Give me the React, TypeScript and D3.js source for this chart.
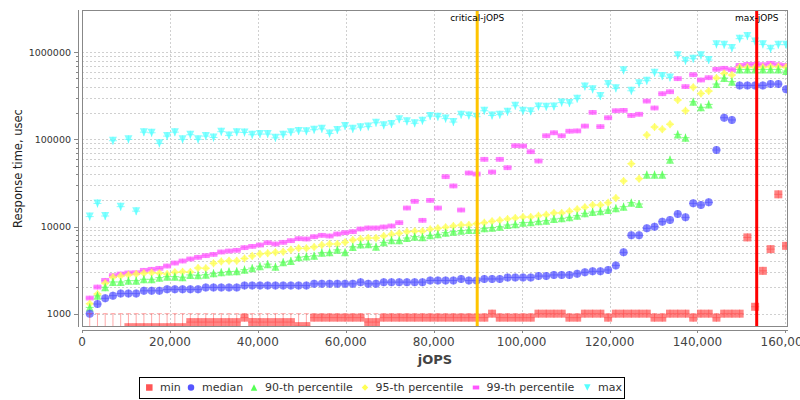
import React from 'react';
import * as d3 from 'd3';

const jops = [1760, 3520, 5280, 7040, 8800, 10560, 12320, 14080, 15840, 17600, 19360, 21120, 22880, 24640, 26400, 28160, 29920, 31680, 33440, 35200, 36960, 38720, 40480, 42240, 44000, 45760, 47520, 49280, 51040, 52800, 54560, 56320, 58080, 59840, 61600, 63360, 65120, 66880, 68640, 70400, 72160, 73920, 75680, 77440, 79200, 80960, 82720, 84480, 86240, 88000, 89760, 91520, 93280, 95040, 96800, 98560, 100320, 102080, 103840, 105600, 107360, 109120, 110880, 112640, 114400, 116160, 117920, 119680, 121440, 123200, 124960, 126720, 128480, 130240, 132000, 133760, 135520, 137280, 139040, 140800, 142560, 144320, 146080, 147840, 149600, 151360, 153120, 154880, 156640, 158400, 160160];

const minRT = [500, 500, 500, 500, 500, 700, 700, 700, 700, 700, 700, 700, 700, 800, 800, 800, 800, 800, 800, 800, 900, 800, 800, 800, 800, 800, 800, 720, 720, 900, 900, 900, 900, 900, 900, 900, 800, 800, 900, 900, 900, 900, 900, 900, 900, 900, 900, 900, 900, 900, 900, 900, 1000, 900, 900, 900, 900, 900, 1000, 1000, 1000, 1000, 900, 900, 1000, 1000, 1000, 900, 1000, 1000, 1000, 1000, 1000, 900, 900, 1000, 1000, 1000, 900, 1000, 1000, 900, 1000, 1000, 1000, 7500, 1200, 3100, 5500, 23400, 6000];

const medianRT = [1000, 1290, 1500, 1610, 1700, 1700, 1700, 1830, 1830, 1830, 1900, 1900, 1900, 1900, 1900, 2000, 2000, 2000, 2000, 2000, 2100, 2100, 2100, 2100, 2100, 2100, 2100, 2100, 2100, 2200, 2200, 2200, 2200, 2200, 2200, 2300, 2200, 2200, 2300, 2300, 2300, 2300, 2300, 2300, 2400, 2400, 2400, 2400, 2500, 2400, 2400, 2500, 2500, 2500, 2600, 2600, 2600, 2600, 2700, 2700, 2780, 2780, 2780, 2870, 2980, 3060, 3060, 3170, 3580, 5050, 7920, 7920, 9530, 9960, 11360, 11870, 13910, 12740, 18440, 17650, 18930, 75450, 177000, 167000, 416000, 416000, 416000, 416000, 431000, 431000, 375000];

const p90RT = [1180, 1600, 2010, 2310, 2310, 2390, 2390, 2480, 2480, 2590, 2660, 2660, 2620, 2780, 2760, 2800, 2900, 2980, 3040, 3060, 3200, 3330, 3500, 3700, 3460, 3900, 4020, 4450, 4520, 4610, 5010, 5050, 5400, 5050, 5820, 6200, 6270, 5870, 6580, 6970, 6940, 7380, 7650, 7550, 7920, 8130, 8500, 8730, 8960, 9120, 9120, 9530, 9700, 9960, 10400, 10590, 11070, 11160, 11460, 11670, 12190, 12410, 12740, 13310, 14160, 14660, 14930, 15460, 16160, 16890, 18760, 18120, 39330, 39330, 39330, 58400, 114000, 104500, 270000, 233000, 252000, 431000, 505000, 459000, 635000, 635000, 635000, 635000, 635000, 635000, 608000];

const p95RT = [1300, 1680, 2230, 2610, 2700, 2780, 2850, 2900, 2950, 2900, 2850, 2980, 3020, 3000, 3340, 3320, 3780, 3980, 4040, 4040, 4290, 4600, 4840, 4940, 5050, 5140, 5420, 5620, 5620, 5820, 6130, 6300, 6300, 6580, 7000, 7190, 7380, 7380, 7780, 8130, 8350, 8730, 8800, 8800, 9280, 9530, 9780, 10140, 10400, 10400, 10780, 11070, 11460, 11770, 12190, 12520, 12850, 12850, 13310, 13670, 14290, 14290, 14930, 15740, 16600, 17650, 17650, 18760, 21230, 33270, 52600, 35400, 112000, 138500, 131000, 149000, 283000, 213000, 395000, 337000, 358000, 505000, 571000, 547000, 670000, 670000, 670000, 670000, 682000, 682000, 670000];

const p99RT = [1510, 2020, 2410, 2730, 2850, 2930, 2950, 3140, 3225, 3310, 3520, 3810, 4020, 4240, 4430, 4630, 4790, 5100, 5230, 5330, 5720, 5920, 6130, 6520, 6300, 6580, 6880, 7250, 7190, 7640, 7920, 7780, 8200, 8500, 8730, 9360, 9620, 9620, 9870, 10140, 11070, 16300, 19450, 11770, 19950, 16300, 37300, 29200, 15460, 41100, 40000, 59000, 42200, 59000, 47300, 84600, 83900, 72200, 56400, 110000, 119000, 110000, 124000, 125000, 142000, 204000, 140000, 177000, 213000, 215000, 188000, 194000, 275000, 229000, 334000, 352000, 497000, 403000, 552000, 480000, 510000, 637000, 653000, 630000, 706000, 725000, 725000, 719000, 745000, 719000, 706000];

const maxRT = [13000, 18400, 13200, 96500, 16900, 100000, 15000, 121000, 119000, 90000, 109000, 121000, 100000, 113000, 100000, 109000, 105000, 122500, 111000, 121000, 120000, 113000, 115000, 115000, 104000, 113000, 121000, 125000, 124000, 129000, 132000, 117000, 128000, 142000, 132000, 138000, 140000, 155000, 145000, 150000, 170000, 161000, 153000, 164000, 185000, 182000, 173000, 158000, 192000, 188000, 182000, 213000, 188000, 192000, 207000, 243000, 213000, 210000, 239000, 237000, 239000, 264000, 261000, 293000, 405000, 375000, 314000, 431000, 385000, 619000, 361000, 439000, 471000, 582000, 532000, 514000, 920000, 799000, 842000, 920000, 813000, 1230000, 1220000, 1117000, 1430000, 1530000, 1330000, 1230000, 1096000, 1220000, 1220000];

const xTicks = [0, 20000, 40000, 60000, 80000, 100000, 120000, 140000, 160000];
const yMajorTicks = [1000, 10000, 100000, 1000000];
const criticalJOPS = 89900;
const maxJOPS = 153480;

const seriesNames = ['min', 'median', '90-th percentile', '95-th percentile', '99-th percentile', 'max'];
const seriesColors = ['#FF5555', '#5555FF', '#55FF55', '#FFFF55', '#FF55FF', '#55FFFF'];
const seriesShapes = ['square', 'circle', 'up', 'diamond', 'hrect', 'down'];
const seriesValues = [minRT, medianRT, p90RT, p95RT, p99RT, maxRT];

const FONT = 'DejaVu Sans, Verdana, sans-serif';
const L = 82, R = 788, T = 10, B = 327;

const x = d3.scaleLinear().domain([0, 160600]).range([L, R]);
const y = d3.scaleLog().domain([703, 3050000]).range([B, T]);

function shapePath(kind: string, cx: number, cy: number, s: number): string {
  const h = s / 2;
  switch (kind) {
    case 'square':
      return `M${cx - h},${cy - h}h${s}v${s}h${-s}Z`;
    case 'circle':
      return `M${cx - h},${cy}a${h},${h} 0 1,0 ${s},0a${h},${h} 0 1,0 ${-s},0Z`;
    case 'up':
      return `M${cx},${cy - h}L${cx + h},${cy + h}L${cx - h},${cy + h}Z`;
    case 'down':
      return `M${cx - h},${cy - h}L${cx + h},${cy - h}L${cx},${cy + h}Z`;
    case 'diamond':
      return `M${cx},${cy - h}L${cx + h},${cy}L${cx},${cy + h}L${cx - h},${cy}Z`;
    case 'hrect':
      return `M${cx - h},${cy - h * 0.6}h${s}v${s * 0.6}h${-s}Z`;
    default:
      return '';
  }
}

function crossPath(kind: string, cx: number, cy: number, s: number): string {
  const h = s / 2;
  const vh = kind === 'hrect' ? h * 0.6 : h;
  return `M${cx - h},${cy}H${cx + h}M${cx},${cy - vh}V${cy + vh}`;
}

export default function App() {
  const minorY: number[] = [];
  [1000, 10000, 100000].forEach((d) => {
    for (let j = 1; j <= 9; j++) minorY.push(d * j);
  });
  minorY.push(1000000);

  const order = [5, 4, 3, 2, 1, 0];
  const legendSym = [149.3, 191, 254, 365, 476, 587.3];
  const legendText = [160, 202, 265, 375.5, 486.5, 598];

  return (
    <svg width={800} height={400} style={{ position: 'absolute', left: 0, top: 0, display: 'block', background: '#fff' }} fontFamily={FONT}>
      <defs>
        <clipPath id="plotClip">
          <rect x={L} y={T} width={R - L} height={B - T} />
        </clipPath>
      </defs>
      <rect x={0} y={0} width={800} height={400} fill="#fff" />
      <rect x={L} y={T} width={R - L} height={B - T} fill="#fff" />
      {/* grid */}
      <g stroke="#d0d0d0" strokeWidth={1} strokeDasharray="2,2" shapeRendering="crispEdges">
        {minorY.map((v, i) => (
          <line key={'gy' + i} x1={L} x2={R} y1={Math.round(y(v)) + 0.5} y2={Math.round(y(v)) + 0.5} />
        ))}
        {xTicks.slice(1).map((v, i) => (
          <line key={'gx' + i} x1={Math.round(x(v)) + 0.5} x2={Math.round(x(v)) + 0.5} y1={T} y2={B} />
        ))}
      </g>
      {/* series */}
      <g clipPath="url(#plotClip)">
        {order.map((si) => {
          const vals = seriesValues[si];
          const col = seriesColors[si];
          const kind = seriesShapes[si];
          return (
            <g key={'s' + si}>
              {si === 0 &&
                vals.map((v, i) =>
                  v < 1000 ? (
                    <g key={'w' + i} stroke={col} strokeOpacity={0.5} strokeWidth={1}>
                      <line x1={x(jops[i])} x2={x(jops[i])} y1={y(1000)} y2={y(v)} />
                      <line x1={x(jops[i]) - 2.5} x2={x(jops[i]) + 2.5} y1={y(1000)} y2={y(1000)} />
                    </g>
                  ) : null
                )}
              {vals.map((v, i) => {
                const cx = x(jops[i]);
                const cy = y(v);
                return (
                  <g key={'m' + i}>
                    <path d={shapePath(kind, cx, cy, 8)} fill={col} fillOpacity={0.72} />
                    <path d={crossPath(kind, cx, cy, 8)} stroke={col} strokeOpacity={0.7} strokeWidth={1} fill="none" />
                  </g>
                );
              })}
            </g>
          );
        })}
      </g>
      {/* markers */}
      <line x1={x(criticalJOPS)} x2={x(criticalJOPS)} y1={T} y2={B} stroke="#FFC400" strokeWidth={3} />
      <line x1={x(maxJOPS)} x2={x(maxJOPS)} y1={T} y2={B} stroke="#FF0000" strokeWidth={3} />
      <text x={x(criticalJOPS)} y={21} fontSize={9} textAnchor="middle" fill="#000">critical-jOPS</text>
      <text x={x(maxJOPS)} y={21} fontSize={9} textAnchor="middle" fill="#000">max-jOPS</text>
      {/* plot border */}
      <rect x={L + 0.5} y={T + 0.5} width={R - L - 1} height={B - T - 1} fill="none" stroke="#888" strokeWidth={1} shapeRendering="crispEdges" />
      {/* axes */}
      <g stroke="#888" strokeWidth={1} shapeRendering="crispEdges">
        <line x1={78.5} x2={78.5} y1={T} y2={B} />
        {minorY.map((v, i) => {
          const yy = Math.round(y(v)) + 0.5;
          const major = yMajorTicks.includes(v);
          return <line key={'ty' + i} x1={major ? 74 : 76} x2={78} y1={yy} y2={yy} />;
        })}
        <line x1={L} x2={R} y1={330.5} y2={330.5} />
        {xTicks.map((v, i) => (
          <line key={'tx' + i} x1={Math.round(x(v)) + 0.5} x2={Math.round(x(v)) + 0.5} y1={331} y2={333} />
        ))}
      </g>
      {yMajorTicks.map((v, i) => (
        <text key={'yl' + i} x={71} y={y(v)} dy="0.35em" fontSize={9.5} textAnchor="end" fill="#333">
          {String(v)}
        </text>
      ))}
      {xTicks.map((v, i) => (
        <text key={'xl' + i} x={x(v)} y={345.5} fontSize={12} textAnchor="middle" fill="#444">
          {d3.format(',')(v)}
        </text>
      ))}
      <text x={(L + R) / 2} y={364} fontSize={13} fontWeight="bold" textAnchor="middle" fill="#444">jOPS</text>
      <text transform={`translate(22,${(T + B) / 2}) rotate(-90)`} fontSize={11.5} textAnchor="middle" fill="#222">
        Response time, usec
      </text>
      {/* legend */}
      <rect x={139.5} y={377.5} width={484.5} height={20.5} fill="#fff" stroke="#000" strokeWidth={1} shapeRendering="crispEdges" />
      {seriesNames.map((n, i) => (
        <g key={'lg' + i}>
          <path d={shapePath(seriesShapes[i], legendSym[i], 387.5, 6.5)} fill={seriesColors[i]} />
          <text x={legendText[i]} y={387.5} dy="0.35em" fontSize={11} fill="#333">{n}</text>
        </g>
      ))}
    </svg>
  );
}
